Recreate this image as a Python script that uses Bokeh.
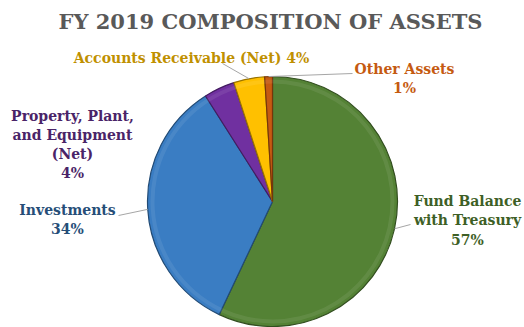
import math
from bokeh.plotting import figure
from bokeh.models import ColumnDataSource
from bokeh.core.properties import value
from bokeh.embed import file_html
from bokeh.resources import INLINE

# ---- data ----
categories = ["Fund Balance\nwith Treasury", "Investments",
              "Property, Plant,\nand Equipment\n(Net)", "Accounts Receivable (Net)", "Other Assets"]
percents = [57, 34, 4, 4, 1]
colors = ["#548235", "#3A7DC3", "#7030A0", "#FFC000", "#C55A11"]
label_colors = ["#3E5F26", "#264E78", "#4A2468", "#BF9000", "#C55A11"]
title_text = "FY 2019 COMPOSITION OF ASSETS"

# ---- layout (pixel coordinates, y measured from top) ----
W, H = 524, 327
CX, CY, R = 272, 201, 125
label_pos = [(467, 220), (67, 219), (72, 144), (191, 57), (404, 78)]
label_sep = ["\n", "\n", "\n", " ", "\n"]
leader_end = [(410, 224), (118, 215), None, (222, 63), (352, 73)]

p = figure(width=W, height=H, x_range=(0, W), y_range=(0, H),
           x_axis_type=None, y_axis_type=None, toolbar_location=None,
           output_backend="svg", min_border=0)
p.grid.visible = False
p.outline_line_color = None
p.background_fill_color = "white"

total = sum(percents)
starts, ends, mids = [], [], []
cum = 0.0
for v in percents:
    a0 = math.pi / 2 - 2 * math.pi * cum / total
    cum += v
    a1 = math.pi / 2 - 2 * math.pi * cum / total
    starts.append(a0)
    ends.append(a1)
    mids.append((a0 + a1) / 2)

def darker(hx, f=0.7):
    r, g, b = int(hx[1:3], 16), int(hx[3:5], 16), int(hx[5:7], 16)
    return "#%02x%02x%02x" % (int(r * f), int(g * f), int(b * f))

src = ColumnDataSource(dict(start=starts, end=ends, color=colors,
                            edge=[darker(c, 0.6) for c in colors]))
p.wedge(x=CX, y=H - CY, radius=R, start_angle="start", end_angle="end",
        direction="clock", fill_color="color", line_color="edge",
        line_width=1.2, source=src)
# subtle bevel highlight
src2 = ColumnDataSource(dict(start=starts, end=ends))
p.annular_wedge(x=CX, y=H - CY, inner_radius=R - 7, outer_radius=R - 3,
                start_angle="start", end_angle="end", direction="clock",
                fill_color="white", fill_alpha=0.08, line_color=None, source=src2)

# leader lines
xs, ys = [], []
for m, e in zip(mids, leader_end):
    if e is None:
        continue
    px = CX + R * math.cos(m)
    py = (H - CY) + R * math.sin(m)
    xs.append([px, e[0]])
    ys.append([py, H - e[1]])
p.multi_line(xs=xs, ys=ys, line_color="#A6A6A6", line_width=1)

# labels
texts = []
for c, v, s in zip(categories, percents, label_sep):
    texts.append(f"{c}{s}{v}%")
p.text(x=[lp[0] for lp in label_pos], y=[H - lp[1] for lp in label_pos], text=texts,
       text_color=label_colors, text_font=value("DejaVu Serif"), text_font_style="bold",
       text_font_size="14px", text_align="center", text_baseline="middle",
       text_line_height=1.2)

# title
p.text(x=[270], y=[H - 21], text=[title_text], text_color="#595959",
       text_font=value("DejaVu Serif"), text_font_style="bold",
       text_font_size="21px", text_align="center", text_baseline="middle")

open("out.html", "w").write(file_html(p, INLINE))
